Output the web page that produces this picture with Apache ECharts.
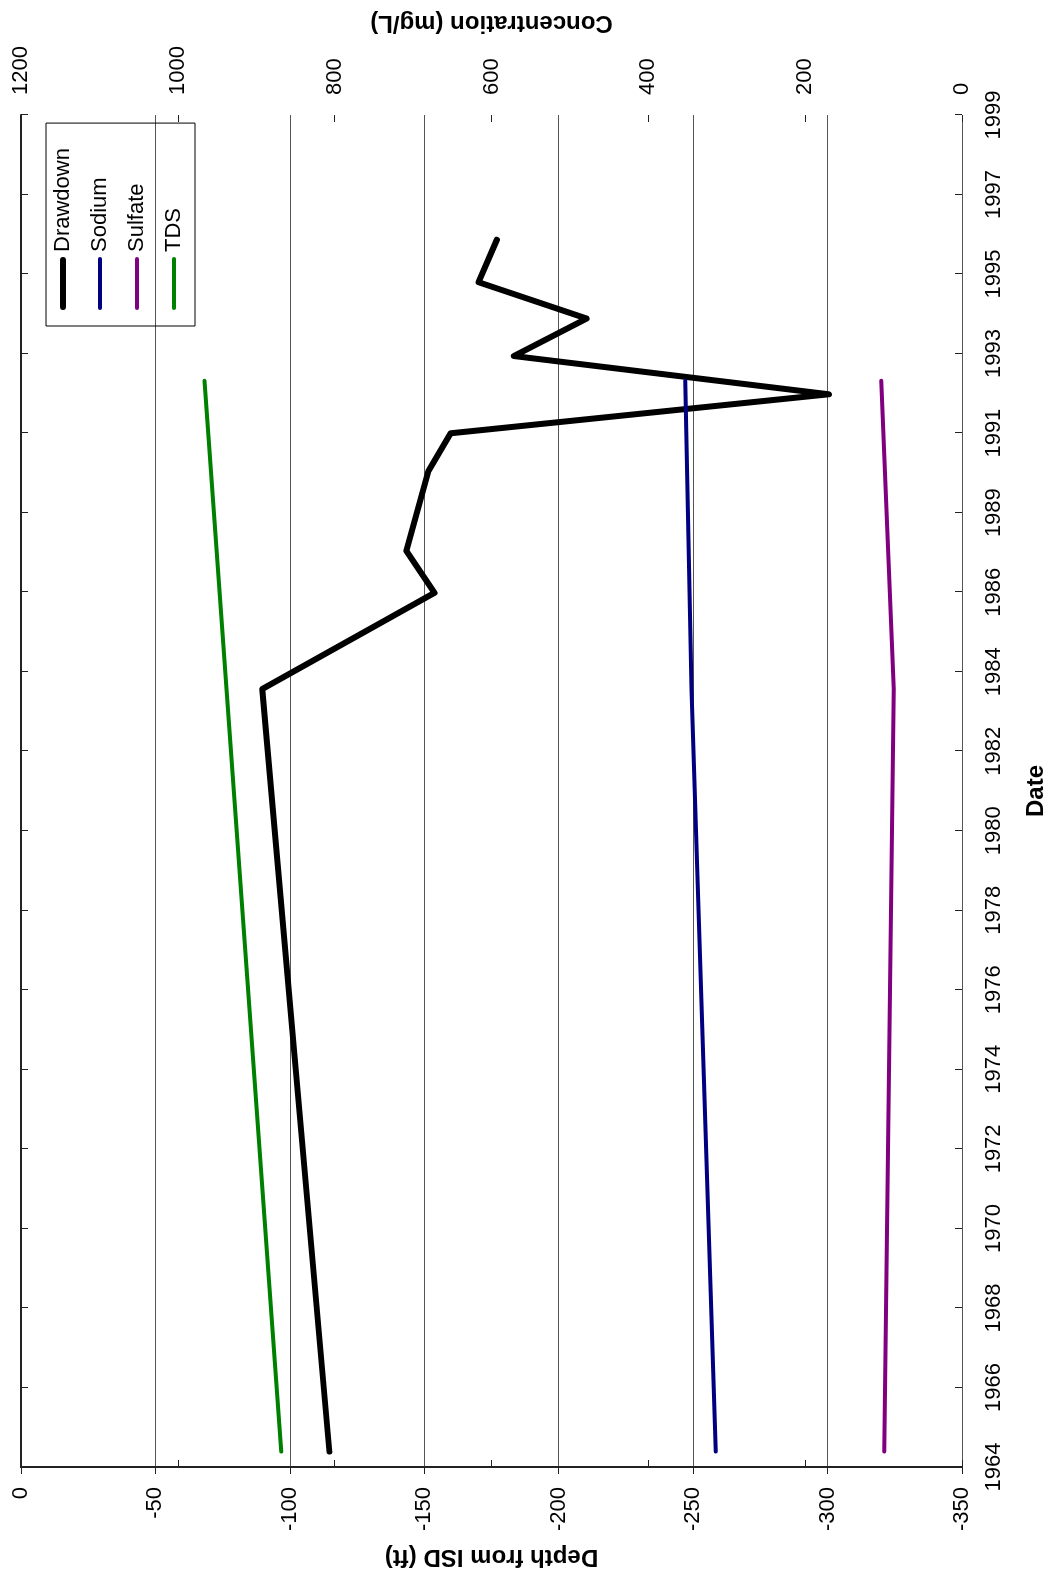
<!DOCTYPE html>
<html><head><meta charset="utf-8">
<script src="https://cdn.jsdelivr.net/npm/echarts@6/dist/echarts.min.js"></script>
<style>
html,body{margin:0;padding:0;background:#fff;overflow:hidden;width:1053px;height:1581px;}
#chart{position:absolute;left:0;top:0;width:1581px;height:1053px;transform-origin:0 0;transform:translateY(1581px) rotate(-90deg);background:#fff;}
</style></head><body><div id="chart"></div>
<script>
// Date axis: Excel-style ticks at a fixed step (in decimal years) from the axis start
const AXIS_START_YEAR = 1964.32;
const TICK_STEP_YEARS = 2.0588;
const TICK_COUNT = 17;

const seriesNames = ['Drawdown', 'Sodium', 'Sulfate', 'TDS'];

// Drawdown (ft) - decimal-year dates and depth values
const drawdownDates = [1964.72, 1984.46, 1986.95, 1988.04, 1990.10, 1991.08, 1992.09, 1993.08, 1994.05, 1994.99, 1996.09];
const drawdownDepth = [-114.7, -89.7, -153.8, -143.3, -151.5, -159.8, -300.5, -183.3, -210.4, -170.2, -177.0];

// Water chemistry (mg/L)
const chemDates = [1964.72, 1984.46, 1992.44];
const sodium = [314, 345, 353];
const sulfate = [99, 87, 103];
const tds = [868, 938, 966];

const depthMin = -350, depthMax = 0, depthStep = 50;
const concMin = 0, concMax = 1200, concStep = 200;

const FONT = "'Liberation Sans', Arial, sans-serif";
const AX = '#222';

function toPairs(dates, vals) {
  return dates.map((d, i) => [d - AXIS_START_YEAR, vals[i]]);
}
function yearLabel(v) { return String(Math.floor(AXIS_START_YEAR + v + 1e-6)); }
function plainLabel(v) { return String(v); }

const chart = echarts.init(document.getElementById('chart'), null, {renderer: 'canvas'});
const xMax = TICK_STEP_YEARS * TICK_COUNT;
const thinIcon = 'path://M2,0h49a2,2 0 0 1 0,4h-49a2,2 0 0 1 0,-4z';

const option = {
  animation: false,
  backgroundColor: '#fff',
  textStyle: {fontFamily: FONT},
  grid: {left: 114, right: 115, top: 21, bottom: 90, containLabel: false},
  legend: {
    orient: 'vertical', left: 1255, top: 46,
    padding: [6, 25, 10, 16],
    itemWidth: 53, itemHeight: 22, itemGap: 15,
    borderColor: '#000', borderWidth: 1,
    textStyle: {fontFamily: FONT, fontSize: 22, color: '#000'},
    data: [
      {name: seriesNames[0], icon: 'path://M3,0h47a3,3 0 0 1 0,6h-47a3,3 0 0 1 0,-6z'},
      {name: seriesNames[1], icon: thinIcon},
      {name: seriesNames[2], icon: thinIcon},
      {name: seriesNames[3], icon: thinIcon}
    ]
  },
  xAxis: [
    {
      type: 'value', position: 'bottom', min: 0, max: xMax, interval: TICK_STEP_YEARS,
      name: 'Date', nameLocation: 'middle', nameGap: 62,
      nameTextStyle: {fontFamily: FONT, fontSize: 24, fontWeight: 'bold', color: '#000'},
      axisLine: {show: true, lineStyle: {color: AX, width: 2}},
      axisTick: {show: true, inside: false, length: 7, lineStyle: {color: AX, width: 1}},
      axisLabel: {show: true, margin: 21, fontFamily: FONT, fontSize: 22, color: '#000', formatter: yearLabel, showMinLabel: true, showMaxLabel: true, hideOverlap: false},
      splitLine: {show: false}
    },
    {
      type: 'value', position: 'bottom', min: 0, max: xMax, interval: TICK_STEP_YEARS,
      axisLine: {show: false},
      axisTick: {show: true, inside: true, length: 7, lineStyle: {color: AX, width: 1}},
      axisLabel: {show: false},
      splitLine: {show: false}
    }
  ],
  yAxis: [
    {
      type: 'value', position: 'left', min: depthMin, max: depthMax, interval: depthStep,
      name: 'Depth from ISD (ft)', nameLocation: 'middle', nameRotate: 90, nameGap: 78,
      nameTextStyle: {fontFamily: FONT, fontSize: 24, fontWeight: 'bold', color: '#000'},
      axisLine: {show: true, lineStyle: {color: AX, width: 2}},
      axisTick: {show: true, inside: false, length: 7, lineStyle: {color: AX, width: 1}},
      axisLabel: {show: true, margin: 20, fontFamily: FONT, fontSize: 22, color: '#000', formatter: plainLabel},
      splitLine: {show: true, lineStyle: {color: '#555', width: 1}}
    },
    {
      type: 'value', position: 'right', min: concMin, max: concMax, interval: concStep,
      name: 'Concentration (mg/L)', nameLocation: 'middle', nameRotate: 90, nameGap: 80,
      nameTextStyle: {fontFamily: FONT, fontSize: 24, fontWeight: 'bold', color: '#000'},
      axisLine: {show: true, lineStyle: {color: AX, width: 2}},
      axisTick: {show: true, inside: false, length: 7, lineStyle: {color: AX, width: 1}},
      axisLabel: {show: true, margin: 20, fontFamily: FONT, fontSize: 22, color: '#000', formatter: plainLabel},
      splitLine: {show: false}
    },
    {
      type: 'value', position: 'right', min: concMin, max: concMax, interval: concStep,
      axisLine: {show: false},
      axisTick: {show: true, inside: true, length: 7, lineStyle: {color: AX, width: 1}},
      axisLabel: {show: false},
      splitLine: {show: false}
    }
  ],
  series: [
    {name: seriesNames[0], type: 'line', xAxisIndex: 0, yAxisIndex: 0, data: toPairs(drawdownDates, drawdownDepth),
     symbol: 'none', color: '#000000', lineStyle: {color: '#000000', width: 6, cap: 'round', join: 'round'}},
    {name: seriesNames[1], type: 'line', xAxisIndex: 0, yAxisIndex: 1, data: toPairs(chemDates, sodium),
     symbol: 'none', color: '#000080', lineStyle: {color: '#000080', width: 4, cap: 'round', join: 'round'}},
    {name: seriesNames[2], type: 'line', xAxisIndex: 0, yAxisIndex: 1, data: toPairs(chemDates, sulfate),
     symbol: 'none', color: '#800080', lineStyle: {color: '#800080', width: 4, cap: 'round', join: 'round'}},
    {name: seriesNames[3], type: 'line', xAxisIndex: 0, yAxisIndex: 1, data: toPairs(chemDates, tds),
     symbol: 'none', color: '#008000', lineStyle: {color: '#008000', width: 4, cap: 'round', join: 'round'}}
  ]
};
chart.setOption(option);
</script>
</body></html>
